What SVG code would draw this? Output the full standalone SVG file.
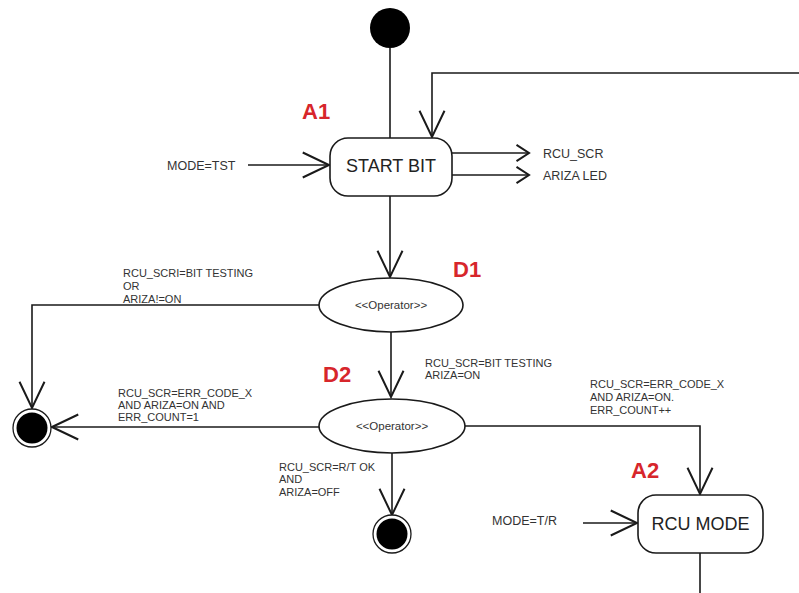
<svg xmlns="http://www.w3.org/2000/svg" width="799" height="593" viewBox="0 0 799 593">
<defs>
<style>
.ln{fill:none;stroke:#1a1a1a;stroke-width:1.6}
.st{fill:#fff;stroke:#1a1a1a;stroke-width:1.6}
.t{font-family:"Liberation Sans",Arial,sans-serif;fill:#333}
.s{font-size:11px}
.m{font-size:12.5px}
.b{font-size:18px;fill:#222}
.r{font-family:"Liberation Sans",Arial,sans-serif;font-weight:bold;font-size:22px;fill:#d7262b}
.op{font-size:11.5px}
</style>
<marker id="ah" markerUnits="userSpaceOnUse" markerWidth="30" markerHeight="30" viewBox="-22 -12 24 24" refX="0" refY="0" orient="auto">
<path d="M-21,-10 L0,0 L-21,10" fill="none" stroke="#1a1a1a" stroke-width="1.6"/>
</marker>
<marker id="ahs" markerUnits="userSpaceOnUse" markerWidth="20" markerHeight="20" viewBox="-12 -8 14 16" refX="0" refY="0" orient="auto">
<path d="M-10,-6.5 L0,0 L-10,6.5" fill="none" stroke="#1a1a1a" stroke-width="1.6"/>
</marker>
</defs>
<rect width="799" height="593" fill="#fff"/>
<g id="connectors">
<path class="ln" d="M390,48 V138"/>
<path class="ln" d="M799,73 H432 V137" marker-end="url(#ah)"/>
<path class="ln" d="M248,165 H329" marker-end="url(#ah)"/>
<path class="ln" d="M452,153 H529" marker-end="url(#ahs)"/>
<path class="ln" d="M452,175 H529" marker-end="url(#ahs)"/>
<path class="ln" d="M390,196 V277" marker-end="url(#ah)"/>
<path class="ln" d="M319,305 H32 V408" marker-end="url(#ah)"/>
<path class="ln" d="M391,332 V397" marker-end="url(#ah)"/>
<path class="ln" d="M319,427 H52" marker-end="url(#ah)"/>
<path class="ln" d="M392,453 V515" marker-end="url(#ah)"/>
<path class="ln" d="M465,426 H700 V494" marker-end="url(#ah)"/>
<path class="ln" d="M583,523 H637" marker-end="url(#ah)"/>
<path class="ln" d="M700,553 V593"/>
</g>
<g id="labels">
<text class="t s" x="123" y="277">RCU_SCRI=BIT TESTING</text>
<text class="t s" x="123" y="290">OR</text>
<text class="t s" x="123" y="303">ARIZA!=ON</text>
<text class="t s" x="118" y="397">RCU_SCR=ERR_CODE_X</text>
<text class="t s" x="118" y="409">AND ARIZA=ON AND</text>
<text class="t s" x="118" y="421">ERR_COUNT=1</text>
<text class="t s" x="425" y="367">RCU_SCR=BIT TESTING</text>
<text class="t s" x="425" y="379">ARIZA=ON</text>
<text class="t s" x="590" y="388">RCU_SCR=ERR_CODE_X</text>
<text class="t s" x="590" y="401">AND ARIZA=ON.</text>
<text class="t s" x="590" y="414">ERR_COUNT++</text>
<text class="t s" x="279" y="471">RCU_SCR=R/T OK</text>
<text class="t s" x="279" y="483">AND</text>
<text class="t s" x="279" y="496">ARIZA=OFF</text>
<text class="t m" x="167" y="169.5">MODE=TST</text>
<text class="t m" x="492" y="525">MODE=T/R</text>
<text class="t m" x="543" y="157.5">RCU_SCR</text>
<text class="t m" x="543" y="180">ARIZA LED</text>
<text class="r" x="302" y="119">A1</text>
<text class="r" x="453" y="277">D1</text>
<text class="r" x="323" y="382">D2</text>
<text class="r" x="631" y="478">A2</text>
</g>
<g id="initial">
<circle cx="390" cy="28" r="20" fill="#000"/>
</g>
<g id="start_bit">
<rect class="st" x="330" y="138" width="122" height="58" rx="18"/>
<text class="t b" x="391" y="172" text-anchor="middle">START BIT</text>
</g>
<g id="d1">
<ellipse class="st" cx="391" cy="305" rx="72" ry="27"/>
<text class="t op" x="391" y="309" text-anchor="middle">&lt;&lt;Operator&gt;&gt;</text>
</g>
<g id="d2">
<ellipse class="st" cx="392" cy="426" rx="73" ry="27"/>
<text class="t op" x="392" y="430" text-anchor="middle">&lt;&lt;Operator&gt;&gt;</text>
</g>
<g id="final_left">
<circle cx="32" cy="428" r="19" fill="#fff" stroke="#1a1a1a" stroke-width="1.3"/>
<circle cx="32" cy="428" r="15.5" fill="#000"/>
</g>
<g id="final_bottom">
<circle cx="392" cy="534" r="19" fill="#fff" stroke="#1a1a1a" stroke-width="1.3"/>
<circle cx="392" cy="534" r="15.5" fill="#000"/>
</g>
<g id="rcu_mode">
<rect class="st" x="638" y="495" width="125" height="58" rx="18"/>
<text class="t b" x="700.5" y="529.5" text-anchor="middle">RCU MODE</text>
</g>
</svg>
